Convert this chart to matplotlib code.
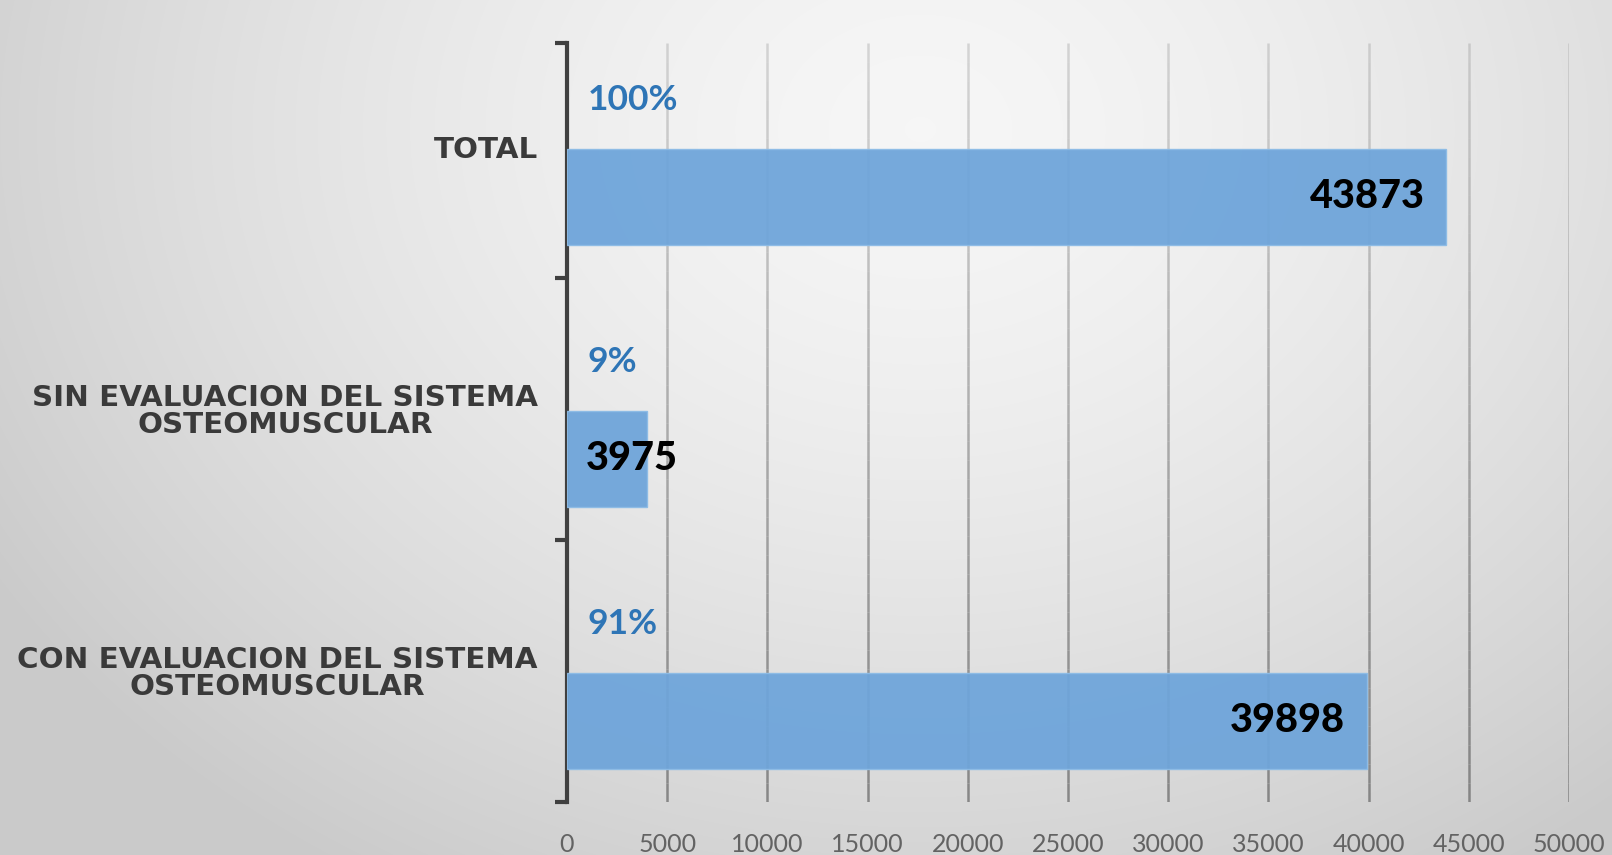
import matplotlib.pyplot as plt
import numpy as np
from matplotlib.collections import LineCollection

# Datos
categorias = ["CON EVALUACION DEL SISTEMA\nOSTEOMUSCULAR",
              "SIN EVALUACION DEL SISTEMA\nOSTEOMUSCULAR",
              "TOTAL"]
conteos = [39898, 3975, 43873]
porcentajes = ["91%", "9%", "100%"]
xticks = [0, 5000, 10000, 15000, 20000, 25000, 30000, 35000, 40000, 45000, 50000]

W, H = 1612, 855
fig = plt.figure(figsize=(W / 100, H / 100), dpi=100)

# Fondo con degradado radial
bg = fig.add_axes([0, 0, 1, 1])
yy, xx = np.mgrid[0:H, 0:W]
r = np.sqrt(((xx - 920) / 1080.0) ** 2 + ((yy - 130) / 870.0) ** 2)
r = np.clip(r, 0, 1)
grad = 0.965 - 0.17 * r ** 1.5
bg.imshow(np.dstack([grad, grad, grad]), aspect="auto", extent=[0, 1, 0, 1])
bg.axis("off")

# eje: bandas de 262 px, parte superior recortada
band = 262.0
ax = fig.add_axes([567 / W, 1 - 802 / H, 1002 / W, 3 * band / H])
ax.patch.set_alpha(0)
ytop = 2.5 - 27 / band

y = np.arange(len(categorias))

# Rejilla vertical con degradado (clara arriba, oscura abajo)
n = 40
ys = np.linspace(-0.5, ytop, n + 1)
for xv in xticks[1:]:
    segs = [[(xv, ys[k]), (xv, ys[k + 1])] for k in range(n)]
    t = np.linspace(1, 0, n)
    cols = [(0.45, 0.45, 0.45, 0.25 + 0.55 * tt) for tt in t]
    ax.add_collection(LineCollection(segs, colors=cols, linewidths=1.8, zorder=1))

ax.barh(y - 0.19, conteos, height=0.366, color="#6FA5DA", edgecolor="#8DBCE6",
        linewidth=1, alpha=0.95, zorder=3)

# Etiquetas de valor
for i, v in enumerate(conteos):
    if v > 10000:
        ax.text(v - 1080, y[i] - 0.19, str(v), ha="right", va="center",
                fontsize=28.5, fontweight="black", family="Lato", color="black", zorder=4)
    else:
        ax.text(925, y[i] - 0.19, str(v), ha="left", va="center",
                fontsize=28.5, fontweight="black", family="Lato", color="black", zorder=4)
    ax.text(1030, y[i] + 0.178, porcentajes[i], ha="left", va="center",
            fontsize=25.5, fontweight="bold", family="Lato", color="#2E75B6", zorder=4)

ax.set_xlim(0, 50000)
ax.set_ylim(-0.5, 2.5)

ax.set_xticks(xticks)
ax.set_xticklabels([str(t) for t in xticks], fontsize=18, color="#636363", family="Lato")
ax.tick_params(axis="x", length=0, pad=22)

ax.set_yticks([-0.5, 0.5, 1.5, ytop])
ax.set_yticklabels([])
ax.set_yticks(y, minor=True)
ax.set_yticklabels(categorias, minor=True, fontsize=21.2, fontweight="bold",
                   color="#3a3a3a", family="DejaVu Sans", linespacing=0.95)
ax.tick_params(axis="y", which="major", length=9, width=3, color="#404040", direction="out")
ax.tick_params(axis="y", which="minor", length=0, pad=21)
for lab in ax.get_yticklabels(minor=True):
    lab.set_multialignment("center")

for s in ["top", "right", "bottom"]:
    ax.spines[s].set_visible(False)
ax.spines["left"].set_color("#404040")
ax.spines["left"].set_linewidth(3)
ax.spines["left"].set_bounds(-0.5, ytop)

fig.savefig("out.png", dpi=100)
